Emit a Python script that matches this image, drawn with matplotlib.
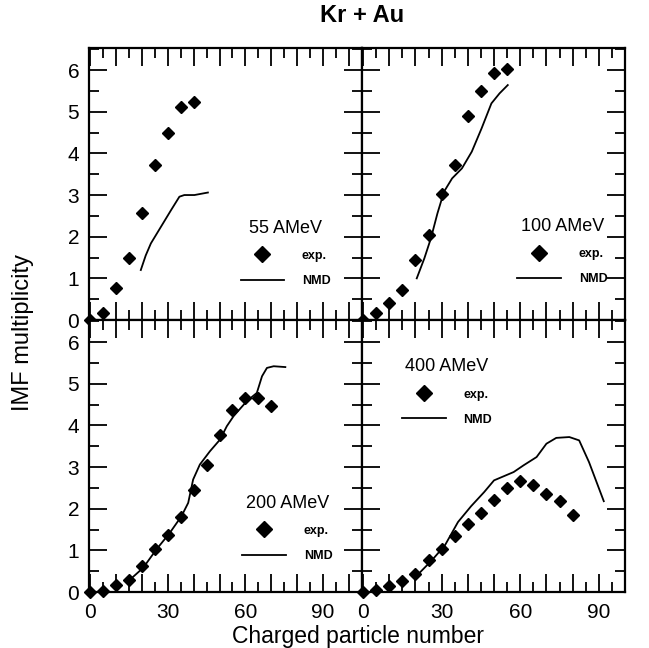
import matplotlib
matplotlib.use("Agg")
import matplotlib.pyplot as plt
from matplotlib.lines import Line2D

plt.rcParams["font.family"] = ["Liberation Sans", "DejaVu Sans"]

# ---- data ----
x55 = [0, 5, 10, 15, 20, 25, 30, 35, 40]
exp55 = [0, 0.18, 0.78, 1.48, 2.56, 3.72, 4.50, 5.12, 5.24]
nmd55_x = [19.6, 21.5, 23.5, 27.4, 31.3, 34.5, 36.4, 40.3, 45.5]
nmd55_y = [1.2, 1.55, 1.84, 2.24, 2.64, 2.96, 3.0, 3.0, 3.06]

x100 = [0, 5, 10, 15, 20, 25, 30, 35, 40, 45, 50, 55]
exp100 = [0, 0.18, 0.42, 0.72, 1.43, 2.03, 3.02, 3.72, 4.9, 5.5, 5.92, 6.02]
nmd100_x = [20.5, 23.4, 25.9, 28.4, 30.9, 34, 37.75, 41.5, 45.25, 49, 52.1, 55.25]
nmd100_y = [1.0, 1.48, 1.96, 2.56, 3.08, 3.4, 3.64, 4.04, 4.6, 5.2, 5.44, 5.64]

x200 = [0, 5, 10, 15, 20, 25, 30, 35, 40, 45, 50, 55, 60, 65, 70]
exp200 = [0, 0.02, 0.16, 0.3, 0.62, 1.04, 1.38, 1.79, 2.44, 3.05, 3.76, 4.36, 4.66, 4.66, 4.46]
nmd200_x = [15.3, 20.5, 25.6, 30.8, 35.3, 37.9, 39.8, 42.4, 46.3, 50.2, 52.8, 55.4,
            60.5, 64.4, 66.4, 68.3, 70.9, 75.4]
nmd200_y = [0.29, 0.58, 1.02, 1.42, 1.82, 2.14, 2.7, 3.06, 3.38, 3.66, 3.98, 4.22,
            4.58, 4.78, 5.18, 5.38, 5.42, 5.4]

x400 = [0, 5, 10, 15, 20, 25, 30, 35, 40, 45, 50, 55, 60, 65, 70, 75, 80]
exp400 = [0, 0.04, 0.14, 0.26, 0.44, 0.76, 1.04, 1.34, 1.64, 1.9, 2.2, 2.5, 2.66,
          2.58, 2.36, 2.18, 1.84]
nmd400_x = [21.25, 26.25, 31.25, 36.25, 41.25, 46.25, 50, 53.75, 57.5, 61.25, 66.25,
            70, 73.75, 78.75, 82.5, 86.25, 91.9]
nmd400_y = [0.44, 0.76, 1.12, 1.68, 2.06, 2.4, 2.68, 2.78, 2.88, 3.04, 3.24, 3.56,
            3.7, 3.72, 3.64, 3.12, 2.18]

energies = ["55 AMeV", "100 AMeV", "200 AMeV", "400 AMeV"]
x_labels = [0, 30, 60, 90]
y_labels = [0, 1, 2, 3, 4, 5, 6]

# panel edges in figure fraction
L, M, R = 89 / 649, 362 / 649, 625 / 649
B, H, T = 1 - 592 / 648, 1 - 320 / 648, 1 - 48 / 648


def style_axes(ax, xmax, show_x, show_y):
    ax.set_xlim(-0.4, xmax)
    ax.set_ylim(0, 6.53)
    ticks = list(range(0, 101, 10))
    ax.set_xticks(ticks)
    ax.set_xticks(list(range(5, 101, 10)), minor=True)
    ax.set_yticks(y_labels)
    ax.set_yticks([v + 0.5 for v in y_labels[:-1]] + [6.5], minor=True)
    if show_x:
        ax.set_xticklabels([str(t) if t in x_labels else "" for t in ticks])
    else:
        ax.set_xticklabels([])
    if show_y:
        ax.set_yticklabels([str(v) for v in y_labels])
    else:
        ax.set_yticklabels([])
    ax.tick_params(which="both", direction="in", top=True, right=True,
                   width=1.3, labelsize=15)
    ax.tick_params(axis="x", pad=8)
    ax.tick_params(axis="y", pad=7)
    ax.tick_params(which="major", length=13)
    ax.tick_params(which="minor", length=7)
    for s in ax.spines.values():
        s.set_linewidth(1.6)


def draw_panel(ax, xe, ye, xn, yn, title, anchor):
    ax.plot(xe, ye, linestyle="none", marker="D", markersize=6.3, color="black",
            clip_on=False, zorder=5)
    ax.plot(xn, yn, color="black", linewidth=1.3)
    handles = [
        Line2D([], [], linestyle="none", marker="D", markersize=8, color="black"),
        Line2D([], [], color="black", linewidth=1.3),
    ]
    ax.legend(handles, ["exp.", "NMD"], title=title, loc="center",
              bbox_to_anchor=anchor, frameon=False, handlelength=3.5,
              handletextpad=1.4, labelspacing=1.05, borderpad=0.2,
              prop={"size": 9, "weight": "bold"}, title_fontsize=13)


fig = plt.figure(figsize=(6.49, 6.48), dpi=100)
ax1 = fig.add_axes([L, H, M - L, T - H])
ax2 = fig.add_axes([M, H, R - M, T - H])
ax3 = fig.add_axes([L, B, M - L, H - B])
ax4 = fig.add_axes([M, B, R - M, H - B])

style_axes(ax1, 105, False, True)
style_axes(ax2, 97.8, False, False)
style_axes(ax3, 105, True, True)
style_axes(ax4, 97.8, True, False)

draw_panel(ax1, x55, exp55, nmd55_x, nmd55_y, energies[0], (0.72, 0.245))
draw_panel(ax2, x100, exp100, nmd100_x, nmd100_y, energies[1], (0.762, 0.252))
draw_panel(ax3, x200, exp200, nmd200_x, nmd200_y, energies[2], (0.727, 0.234))
draw_panel(ax4, x400, exp400, nmd400_x, nmd400_y, energies[3], (0.323, 0.735))

fig.text(362 / 649, 1 - 15 / 648, "Kr + Au", ha="center", va="center",
         fontsize=17, fontweight="bold")
fig.text(23 / 649, 1 - 332 / 648, "IMF multiplicity", ha="center", va="center",
         rotation=90, fontsize=17)
fig.text(358 / 649, 1 - 637 / 648, "Charged particle number", ha="center",
         va="center", fontsize=16.5)

fig.savefig("out.png", dpi=100)
plt.close(fig)
